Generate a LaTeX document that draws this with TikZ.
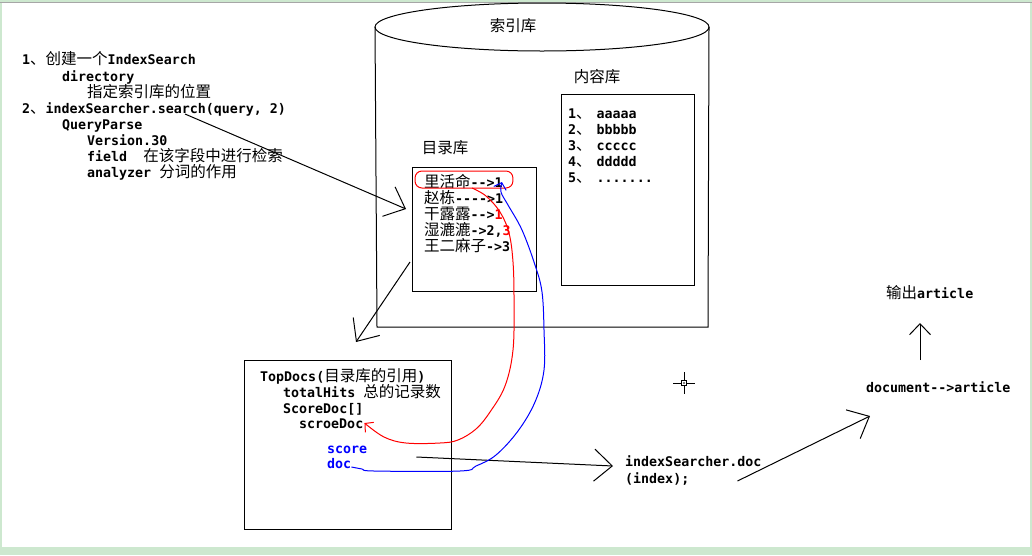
\documentclass[tikz,border=0pt]{standalone}
\usepackage{fontspec}
\setmonofont{DejaVu Sans Mono}
\newfontfamily\cjk{Noto Sans CJK SC}
\newcommand{\zh}[1]{{\cjk\mdseries\fontsize{15.5}{16}\selectfont #1}}
\usetikzlibrary{arrows.meta,positioning,calc}
\definecolor{winbg}{RGB}{205,232,207}
\definecolor{penred}{RGB}{255,0,0}
\definecolor{penblue}{RGB}{0,0,255}

\begin{document}
\begin{tikzpicture}[x=1pt,y=-1pt,>={Straight Barb[length=18pt,width=32pt]},
  txt/.style={anchor=base west,inner sep=0pt,font=\ttfamily\bfseries\fontsize{13.3}{16}\selectfont},
  lab/.style={inner sep=0pt,font=\cjk\fontsize{15.5}{16}\selectfont},
  box/.style={draw,line width=1pt,anchor=north west,inner sep=0pt},
  pen/.style={line width=1pt},
  tiny/.style={-{Straight Barb[length=6pt,width=13pt]}},
  upar/.style={-{Straight Barb[length=11pt,width=21pt]}}]
\useasboundingbox (0,0) rectangle (1032,555);
\fill[winbg] (0,0) rectangle (1032,555);
\fill[white] (2,3) rectangle (1030,547);
\draw[gray!70] (0,2.5) -- (1032,2.5);

% notes on the left
\node (l1) [txt] at (22,64) {1\zh{、创建一个}IndexSearch};
\node (l2) [txt] at (62,81) {directory};
\node (l3) [txt] at (87,97) {\zh{指定索引库的位置}};
\node (l4) [txt] at (22,113) {2\zh{、}indexSearcher.search(query, 2)};
\node (l5) [txt] at (62,129) {QueryParse};
\node (l6) [txt] at (87,145) {Version.30};
\node (l7) [txt] at (87,161) {field\ \ \zh{在该字段中进行检索}};
\node (l8) [txt] at (87,177) {analyzer \zh{分词的作用}};

% index store
\draw[pen] (542,27) ellipse [x radius=167,y radius=24];
\draw[pen] (375,27) -- (377,327) -- (708,327) -- (709,27);
\node (idx) [lab] at (513,26) {索引库};
\node (cnt) [lab] at (597,77) {内容库};
\node (cbox) [box,minimum width=133,minimum height=191] at (561,94) {};
\node (c1) [txt] at (568,118) {1\zh{、}\kern5pt aaaaa};
\node (c2) [txt] at (568,134) {2\zh{、}\kern5pt bbbbb};
\node (c3) [txt] at (568,150) {3\zh{、}\kern5pt ccccc};
\node (c4) [txt] at (568,166) {4\zh{、}\kern5pt ddddd};
\node (c5) [txt] at (568,182) {5\zh{、}\kern5pt .......};

\node (dlab) [lab] at (445,148) {目录库};
\node (dbox) [box,minimum width=124,minimum height=124] at (412,167) {};
\node (d1) [txt] at (424,187) {\zh{里活命}-->1};
\node (d2) [txt] at (424,203) {\zh{赵栋}---->1};
\node (d3) [txt] at (424,219) {\zh{干露露}-->\textcolor{penred}{1}};
\node (d4) [txt] at (424,235) {\zh{湿漉漉}->2,\textcolor{penred}{3}};
\node (d5) [txt] at (424,251) {\zh{王二麻子}->3};

% result
\node (tbox) [box,minimum width=207,minimum height=169] at (244,360) {};
\node (t1) [txt] at (260,381) {TopDocs(\zh{目录库的引用})};
\node (t2) [txt] at (283,397) {totalHits \zh{总的记录数}};
\node (t3) [txt] at (283,413) {ScoreDoc[]};
\node (t4) [txt] at (299,428) {scroeDoc};
\node (t5) [txt,text=penblue] at (327,453) {score};
\node (t6) [txt,text=penblue] at (327,468) {doc};

\node (isd) [txt] at (625,466) {indexSearcher.doc};
\node (isd2) [txt] at (625,483) {(index);};
\node (docart) [txt] at (866,392) {document-->article};
\node (out) [txt] at (886,298) {\zh{输出}article};

% connectors
\coordinate (qs) at ($(l4.base west)+(163,1)$);
\draw[pen,->] (qs) -- ($(dbox.north west)+(-6,42)$);
\draw[pen,->] ($(dbox.north west)+(-2,95)$) -- ($(tbox.north west)+(112,-18)$);
\draw[pen,->] ($(t6.base east)+(65,-11)$) -- ($(isd.base west)+(-12,0)$);
\draw[pen,->] ($(isd2.base east)+(48,-2)$) -- ($(docart.base west)+(4,24)$);
\draw[pen,upar] ($(docart.base west)+(54,-32)$) -- ($(out.base west)+(34,25)$);

% red and blue strokes
\coordinate (r0) at ($(d1.base west)+(48,1)$);
\coordinate (r1) at ($(t4.base east)+(1,-5)$);
\coordinate (b0) at ($(t6.base east)+(0,-1)$);
\coordinate (b1) at ($(d1.base east)+(-1,-5)$);
\draw[penred,pen,rounded corners=7] ($(d1.base west)+(-9,-16)$) rectangle ($(d1.base east)+(10,1)$);
\draw[penred,pen,tiny] plot[smooth,tension=0.6] coordinates {(r0) (486,196) (500,212) (509,233) (513,262)
  (514,300) (513,350) (505,386) (490,412) (476,429) (458,440) (440,443) (406,443) (384,437) (r1)};
\draw[penblue,pen,tiny] plot[smooth,tension=0.6] coordinates {(b0) (362,469) (374,471) (460,471) (476,466)
  (496,455) (518,431) (535,402) (544,370) (544,330) (542,292) (535,265) (522,230) (508,205) (501,192) (b1)};

% cursor
\draw[pen] (673,383) -- (681,383) (687,383) -- (695,383) (684,372) -- (684,380) (684,386) -- (684,394);
\draw (681.5,380.5) rectangle (686.5,385.5);
\fill (684,383) circle (0.8);
\end{tikzpicture}
\end{document}
